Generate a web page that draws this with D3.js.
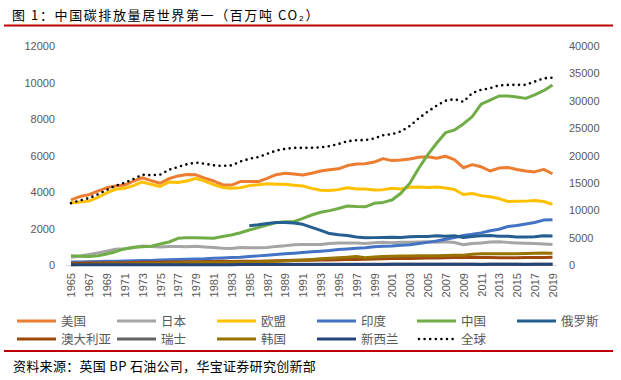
<!DOCTYPE html>
<html>
<head>
<meta charset="utf-8" />
<title>中国碳排放量居世界第一</title>
<script src="https://cdnjs.cloudflare.com/ajax/libs/d3/7.8.5/d3.min.js"></script>
<style>
	body { margin: 0; padding: 0; background: #fff; }
	svg { display: block; }
	.cjk { font-family: "Noto Sans CJK SC", sans-serif; }
	.num { font-family: "Liberation Sans", Arial, sans-serif; }
</style>
</head>
<body>
<div id="chart"></div>
<script>
// years 1965 - 2019
var years = d3.range(1965, 2020);

// 百万吨 CO2, left axis
var usa = [3570,3750,3850,4050,4230,4330,4380,4600,4780,4620,4480,4730,4880,4960,4940,4760,4600,4400,4380,4570,
  4580,4570,4750,4950,5030,4980,4930,5030,5150,5220,5270,5450,5530,5550,5640,5830,5720,5750,5810,5900,
  5930,5850,5960,5770,5330,5500,5380,5150,5310,5340,5230,5150,5100,5240,5000];
var japan = [430,490,580,660,750,860,890,950,1040,1010,980,1010,1020,1000,1030,990,960,920,900,960,
  950,950,960,1020,1050,1110,1120,1130,1120,1180,1200,1210,1210,1180,1220,1240,1220,1240,1250,1260,
  1270,1250,1280,1230,1110,1180,1210,1260,1280,1240,1210,1190,1180,1150,1120];
var eu = [3400,3450,3500,3700,3950,4150,4200,4350,4550,4420,4300,4550,4520,4600,4750,4600,4400,4250,4200,4230,
  4350,4400,4450,4420,4420,4370,4330,4200,4100,4080,4130,4230,4160,4170,4110,4130,4200,4170,4260,4270,
  4250,4270,4220,4140,3860,3920,3800,3740,3640,3480,3490,3500,3530,3480,3330];
var india = [160,170,180,190,200,210,220,230,240,250,270,290,300,310,330,340,370,390,410,430,
  470,500,530,570,610,640,680,720,750,790,850,880,920,950,1000,1030,1040,1080,1110,1180,
  1240,1310,1410,1510,1620,1680,1760,1880,1960,2110,2170,2250,2330,2460,2480];
var china = [510,480,460,500,600,730,880,970,1000,1030,1150,1260,1460,1500,1490,1480,1470,1560,1640,1770,
  1920,2050,2190,2320,2370,2370,2550,2740,2890,2980,3100,3230,3200,3190,3380,3430,3560,3930,4480,5300,
  6030,6670,7250,7400,7730,8130,8820,9040,9260,9260,9200,9130,9320,9550,9860];
var russia = [null,null,null,null,null,null,null,null,null,null,null,null,null,null,null,null,null,null,null,null,
  2150,2200,2270,2330,2330,2300,2230,2060,1900,1720,1660,1620,1530,1490,1500,1510,1520,1510,1550,1560,
  1560,1600,1580,1600,1510,1560,1600,1610,1580,1580,1540,1540,1550,1600,1590];
var australia = [95,100,105,112,118,125,130,135,145,150,155,160,170,175,180,190,195,200,195,205,
  210,210,220,230,245,260,260,265,270,275,285,295,300,320,330,340,350,355,360,375,
  385,390,400,405,415,405,410,410,400,395,400,410,415,415,420];
var swiss = [30,32,34,37,40,42,44,45,46,43,41,43,42,43,42,41,40,39,40,41,
  42,43,42,41,41,42,44,44,42,41,42,43,42,44,44,43,45,43,44,45,
  45,45,43,44,43,45,41,42,43,39,38,38,38,37,36];
var korea = [20,25,30,37,45,55,60,63,72,77,85,95,108,120,135,135,140,140,150,160,
  170,180,190,210,225,245,270,305,340,370,400,430,460,400,440,470,480,495,500,505,
  505,510,525,535,535,590,610,610,610,610,620,630,650,660,640];
var nz = [12,12,13,13,14,15,15,16,17,17,17,17,18,18,18,18,18,19,20,21,
  22,23,24,24,25,26,27,28,27,27,28,30,32,31,32,33,35,35,37,36,
  37,38,37,38,35,35,34,35,35,35,35,34,35,35,35];
// 全球, right axis
var world = [11300,11800,12200,12900,13700,14500,15000,15700,16500,16400,16500,17400,17900,18400,18700,18500,18200,18100,18200,18900,
  19400,19700,20300,20900,21200,21400,21400,21400,21500,21700,22100,22600,22800,22800,23100,23700,23900,24400,25400,26800,
  28000,29100,30000,30300,29800,31400,32000,32300,32800,32900,32900,32900,33500,34100,34200];

var seriesNames = ["美国","日本","欧盟","印度","中国","俄罗斯","澳大利亚","瑞士","韩国","新西兰"];
var seriesValues = [usa, japan, eu, india, china, russia, australia, swiss, korea, nz];
var seriesColors = ["#ED7D31","#A5A5A5","#FFC000","#4472C4","#70AD47","#255E91","#9E480E","#636363","#997300","#264478"];

var leftTicks = [0,2000,4000,6000,8000,10000,12000];
var rightTicks = [0,5000,10000,15000,20000,25000,30000,35000,40000];

var width = 621, height = 380;
var svg = d3.select("#chart").append("svg").attr("width", width).attr("height", height);

// title
svg.append("text").attr("class","cjk")
  .attr("x", 12).attr("y", 20)
  .attr("font-size", 13).attr("fill", "#000")
  .attr("letter-spacing", 1.6)
  .text("图 1：中国碳排放量居世界第一（百万吨 CO₂）");
svg.append("line").attr("x1",4).attr("x2",613).attr("y1",25.5).attr("y2",25.5)
  .attr("stroke","#C00000").attr("stroke-width",2);

var x = d3.scalePoint().domain(years).range([71, 552.5]);
var yL = d3.scaleLinear().domain([0,12000]).range([265, 46]);
var yR = d3.scaleLinear().domain([0,40000]).range([265, 46]);

// axes
var gL = svg.append("g").attr("class","num").attr("transform","translate(66,0)")
  .call(d3.axisLeft(yL).tickValues(leftTicks).tickSize(0).tickPadding(11).tickFormat(d3.format("d")));
var gR = svg.append("g").attr("class","num").attr("transform","translate(557,0)")
  .call(d3.axisRight(yR).tickValues(rightTicks).tickSize(0).tickPadding(12).tickFormat(d3.format("d")));
[gL, gR].forEach(function(g){
  g.select(".domain").remove();
  g.selectAll("text").attr("font-size", 11).attr("fill","#595959").attr("font-family","Liberation Sans, Arial, sans-serif");
});

var gX = svg.append("g").attr("transform","translate(0,265)")
  .call(d3.axisBottom(x).tickValues(years.filter(function(d){ return (d-1965)%2===0; })).tickSize(0).tickPadding(0));
gX.select(".domain").attr("d","M66,0.5H557").attr("stroke","#D9D9D9");
gX.selectAll("text")
  .attr("font-size", 11).attr("fill","#595959").attr("font-family","Liberation Sans, Arial, sans-serif")
  .attr("transform","rotate(-90)")
  .attr("text-anchor","end")
  .attr("dy","0.35em").attr("x",-8).attr("y",0);

// lines
var lineL = d3.line().defined(function(d){ return d != null; })
  .x(function(d,i){ return x(years[i]); }).y(function(d){ return yL(d); });
seriesValues.forEach(function(vals, k){
  svg.append("path").datum(vals)
    .attr("fill","none").attr("stroke", seriesColors[k]).attr("stroke-width", 3)
    .attr("stroke-linejoin","round")
    .attr("d", lineL);
});
var lineR = d3.line().x(function(d,i){ return x(years[i]); }).y(function(d){ return yR(d); });
svg.append("path").datum(world)
  .attr("fill","none").attr("stroke","#000").attr("stroke-width",2.6)
  .attr("stroke-linecap","round").attr("stroke-dasharray","0 5.6")
  .attr("d", lineR);

// legend
var legendNames = seriesNames.concat(["全球"]);
var legendColors = seriesColors.concat(["#000"]);
var legend = svg.append("g").attr("class","cjk");
legendNames.forEach(function(name, i){
  var col = i % 6, row = Math.floor(i / 6);
  var lx = 17 + col * 100, ly = 321 + row * 18;
  var ln = legend.append("line").attr("x1", lx).attr("x2", lx + 39).attr("y1", ly).attr("y2", ly)
    .attr("stroke", legendColors[i]).attr("stroke-width", 3);
  if (name === "全球") ln.attr("stroke-width",2.6).attr("stroke-linecap","round").attr("stroke-dasharray","0 5.6").attr("x1", lx + 2).attr("x2", lx + 38);
  legend.append("text").attr("x", lx + 44).attr("y", ly).attr("dy","0.36em")
    .attr("font-size", 12.5).attr("fill","#595959").text(name);
});

svg.append("line").attr("x1",4).attr("x2",613).attr("y1",351).attr("y2",351)
  .attr("stroke","#C00000").attr("stroke-width",2);
svg.append("text").attr("class","cjk")
  .attr("x", 13).attr("y", 366).attr("dy","0.36em")
  .attr("font-size", 13).attr("fill","#000").attr("letter-spacing", 0.3)
  .text("资料来源：英国 BP 石油公司，华宝证券研究创新部");
</script>
</body>
</html>
